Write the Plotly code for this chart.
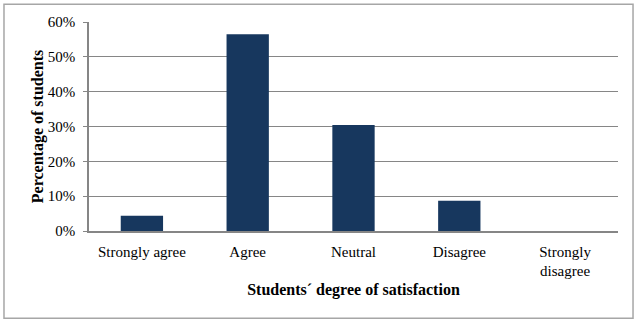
import plotly.graph_objects as go

categories = ["Strongly agree", "Agree", "Neutral", "Disagree", "Strongly<br>disagree"]
percentages = [0.0435, 0.565, 0.304, 0.087, 0.0]
y_ticks = [0, 0.1, 0.2, 0.3, 0.4, 0.5, 0.6]
y_tick_labels = ["0%", "10%", "20%", "30%", "40%", "50%", "60%"]

font_family = "Liberation Serif"

fig = go.Figure(
    go.Bar(
        x=categories,
        y=percentages,
        marker=dict(color="#17375E", line=dict(width=0)),
        width=0.4,
    )
)

fig.update_layout(
    width=640,
    height=323,
    margin=dict(l=89, r=22, t=22, b=92),
    paper_bgcolor="white",
    plot_bgcolor="white",
    showlegend=False,
    font=dict(family=font_family, size=15, color="black"),
    shapes=[
        dict(
            type="rect", xref="paper", yref="paper",
            x0=-0.1607, x1=1.0284, y0=-0.4177, y1=1.0847,
            line=dict(color="#A6A6A6", width=1.5),
            fillcolor="rgba(0,0,0,0)",
            layer="below",
        )
    ],
)

fig.update_xaxes(
    showline=True,
    linecolor="#868686",
    linewidth=1.5,
    ticks="",
    showgrid=False,
    tickfont=dict(size=15, family=font_family, color="black"),
    ticklabelstandoff=6,
    title=dict(
        text="<b>Students´ degree of satisfaction</b>",
        font=dict(size=16, family=font_family, color="black"),
        standoff=6,
    ),
)

fig.update_yaxes(
    range=[0, 0.6],
    tickvals=y_ticks,
    ticktext=y_tick_labels,
    showline=True,
    linecolor="#868686",
    linewidth=1.5,
    ticks="outside",
    ticklen=4,
    tickcolor="#868686",
    showgrid=True,
    gridcolor="#868686",
    gridwidth=1.2,
    zeroline=False,
    tickfont=dict(size=15, family=font_family, color="black"),
    ticklabelstandoff=5,
    title=dict(
        text="<b>Percentage of students</b>",
        font=dict(size=16, family=font_family, color="black"),
        standoff=0,
    ),
)

fig.write_html("out.html")
